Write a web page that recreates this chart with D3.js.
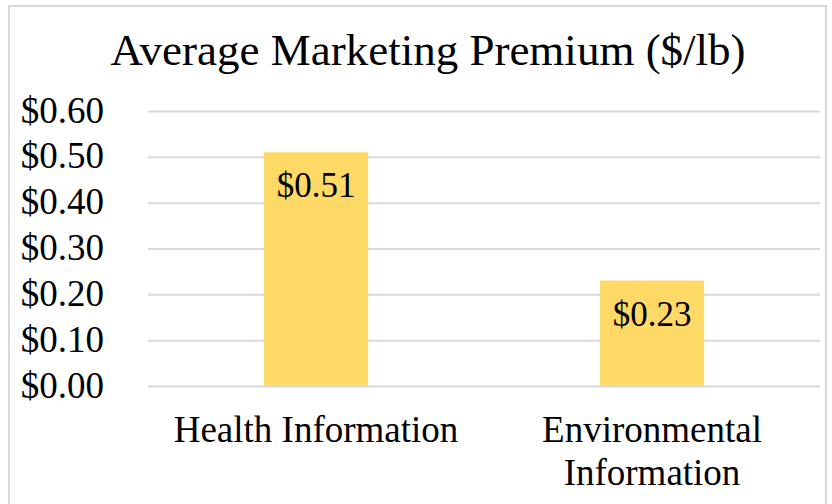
<!DOCTYPE html>
<html lang="en">
<head>
    <meta charset="UTF-8">
    <title>Average Marketing Premium</title>
    <script src="https://d3js.org/d3.v7.min.js"></script>
    <style>
        body { margin: 0; background: #fff; }
        svg text { font-family: "Liberation Serif", "Times New Roman", serif; fill: #000; }
        .grid line { stroke: #d9d9d9; stroke-width: 2; }
        .grid path { display: none; }
        .y.axis path, .y.axis line, .x.axis path, .x.axis line { display: none; }
    </style>
</head>
<body>
    <script>
        // Chart data
        const categories = ['Health Information', 'Environmental Information'];
        const categoryLines = [['Health Information'], ['Environmental', 'Information']];
        const premiums = [0.51, 0.23];
        const yTicks = [0, 0.1, 0.2, 0.3, 0.4, 0.5, 0.6];

        const W = 832, H = 504;
        const margin = {top: 111, right: 12, bottom: 118, left: 148};
        const width = W - margin.left - margin.right,
              height = H - margin.top - margin.bottom;

        const svg = d3.select('body').append('svg')
            .attr('width', W)
            .attr('height', H);

        // chart area border
        svg.append('rect')
            .attr('x', 9).attr('y', 6)
            .attr('width', 817).attr('height', 520)
            .attr('fill', 'none')
            .attr('stroke', '#d9d9d9')
            .attr('stroke-width', 2);

        svg.append('text')
            .attr('x', 428).attr('y', 65)
            .attr('text-anchor', 'middle')
            .style('font-size', '45px')
            .text('Average Marketing Premium ($/lb)');

        const g = svg.append('g')
            .attr('transform', `translate(${margin.left},${margin.top})`);

        const x = d3.scaleBand()
            .domain(categories)
            .range([0, width])
            .paddingInner(0.69)
            .paddingOuter(0.345);

        const y = d3.scaleLinear()
            .domain([0, 0.6])
            .range([height, 0]);

        // gridlines
        g.append('g')
            .attr('class', 'grid')
            .call(d3.axisLeft(y).tickValues(yTicks).tickSize(-width).tickFormat(''));

        // y axis labels
        g.append('g')
            .attr('class', 'y axis')
            .attr('transform', 'translate(-41,0)')
            .call(d3.axisLeft(y).tickValues(yTicks).tickSize(0).tickFormat(d => '$' + d3.format('.2f')(d)))
            .selectAll('text')
            .style('font-size', '37px')
            .attr('dy', '0.3em');

        // bars
        g.selectAll('.bar')
            .data(premiums)
            .enter().append('rect')
            .attr('class', 'bar')
            .attr('x', (d, i) => x(categories[i]))
            .attr('y', d => y(d))
            .attr('width', x.bandwidth())
            .attr('height', d => height - y(d))
            .attr('fill', '#ffd966');

        // value labels
        g.selectAll('.val')
            .data(premiums)
            .enter().append('text')
            .attr('class', 'val')
            .attr('x', (d, i) => x(categories[i]) + x.bandwidth() / 2)
            .attr('y', d => y(d) + 45)
            .attr('text-anchor', 'middle')
            .style('font-size', '35px')
            .text(d => '$' + d3.format('.2f')(d));

        // category labels
        const cat = g.selectAll('.cat')
            .data(categories)
            .enter().append('text')
            .attr('class', 'cat')
            .attr('text-anchor', 'middle')
            .attr('transform', d => `translate(${x(d) + x.bandwidth() / 2},${height + 56})`)
            .style('font-size', '37px');

        cat.selectAll('tspan')
            .data((d, i) => categoryLines[i])
            .enter().append('tspan')
            .attr('x', 0)
            .attr('dy', (d, i) => i === 0 ? 0 : 43)
            .text(d => d);
    </script>
</body>
</html>
